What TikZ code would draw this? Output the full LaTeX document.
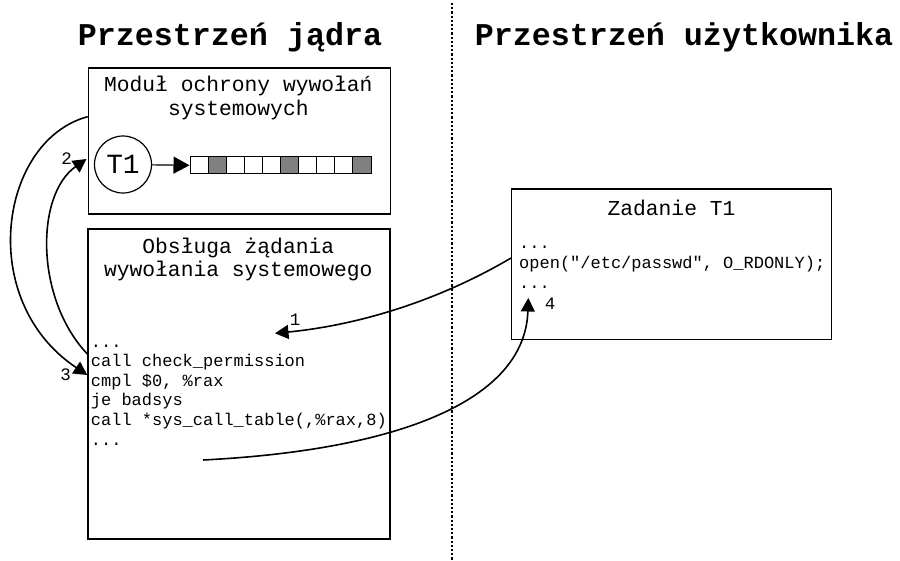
\documentclass[tikz,border=0pt]{standalone}
\usepackage{fontspec}
\setmonofont{Liberation Mono}
\usetikzlibrary{arrows.meta}
\begin{document}
\begin{tikzpicture}[x=1pt,y=-1pt,
  panel/.style={draw, line width=1.2pt, inner sep=0pt, anchor=north west},
  heading/.style={font=\fontsize{31.7}{36}\selectfont\ttfamily\bfseries, anchor=base, inner sep=0pt},
  title/.style={font=\fontsize{21.3}{24}\selectfont\ttfamily, anchor=base, inner sep=0pt},
  code/.style={font=\fontsize{17}{19.6}\selectfont\ttfamily, anchor=base west, inner sep=0pt},
  num/.style={font=\fontsize{17.5}{19.6}\selectfont\ttfamily, inner sep=0pt},
  cell/.style={draw, line width=1pt, minimum width=18.1pt, minimum height=17.3pt, inner sep=0pt},
  flow/.style={line width=1.6pt, -{Triangle[length=13.5pt,width=14pt]}},
]
\useasboundingbox (0,0) rectangle (900,560);

% separator between kernel and user space
\coordinate (sepTop) at (452,3);
\coordinate (sepBot) at (452,560);
\draw[line width=2.2pt, dash pattern=on 2.2pt off 2pt] (sepTop) -- (sepBot);

% headings
\node[heading] (hKernel) at (230,45) {Przestrzeń jądra};
\node[heading] (hUser) at (684,45) {Przestrzeń użytkownika};

% system call protection module
\node[panel, minimum width=302.3pt, minimum height=146pt] (mod) at (87.7,67.3) {};
\node[title] (modA) at (238.3,91.7) {Moduł ochrony wywołań};
\node[title] (modB) at (238.3,115) {systemowych};
\node[draw, circle, line width=1.2pt, minimum size=57pt, inner sep=0pt,
      font=\fontsize{27.8}{30}\selectfont\ttfamily] (t1) at (123,164.5) {T1};
\foreach \k/\f in {0/white,1/gray,2/white,3/white,4/white,5/gray,6/white,7/white,8/white,9/gray}{
  \node[cell, fill=\f] (c\k) at ({199.05+18.1*\k},165.3) {};
}
\draw[line width=1.2pt, -{Triangle[length=16pt,width=17pt]}] (t1) -- (c0.west);

% system call handler
\node[panel, minimum width=302pt, minimum height=310pt] (hnd) at (87.3,228.3) {};
\node[title] (hndA) at (238.3,253.3) {Obsługa żądania};
\node[title] (hndB) at (238.3,276.7) {wywołania systemowego};
\node[code] (k0) at (90.7,347) {...};
\node[code] (k1) at (90.7,366.6) {call check\_permission};
\node[code] (k2) at (90.7,386.2) {cmpl \$0, \%rax};
\node[code] (k3) at (90.7,405.8) {je badsys};
\node[code] (k4) at (90.7,425.4) {call *sys\_call\_table(,\%rax,8)};
\node[code] (k5) at (90.7,445) {...};

% user task
\node[panel, minimum width=319.7pt, minimum height=150.7pt] (task) at (511,188.3) {};
\node[title] (taskT) at (671.5,215) {Zadanie T1};
\node[code] (u0) at (519,248.8) {...};
\node[code] (u1) at (519,268.4) {open("/etc/passwd", O\_RDONLY);};
\node[code] (u2) at (519,288) {...};

% connector end points
\coordinate (p1s) at (511,258);
\coordinate (p1e) at (275,333.3);
\coordinate (p2s) at (88.3,355);
\coordinate (p2e) at (86.5,159);
\coordinate (p3s) at (87.7,116.7);
\coordinate (p3e) at (87.3,375);
\coordinate (p4s) at (203,460);
\coordinate (p4e) at (528.3,298);

% 1: system call enters the kernel
\draw[flow] (p1s) .. controls (440,300) and (360,325) .. (p1e);
\node[num] (n1) at (295,320) {1};
% 2: permission check in the module
\draw[flow] (p2s) .. controls (35,300) and (35,195) .. (p2e);
\node[num] (n2) at (66.7,158.3) {2};
% 3: back to the handler
\draw[flow] (p3s) .. controls (0,140) and (-25,300) .. (p3e);
\node[num] (n3) at (65.7,375) {3};
% 4: return to the task
\draw[flow] (p4s) .. controls (400,450) and (525,400) .. (p4e);
\node[num] (n4) at (550,303.3) {4};
\end{tikzpicture}
\end{document}
